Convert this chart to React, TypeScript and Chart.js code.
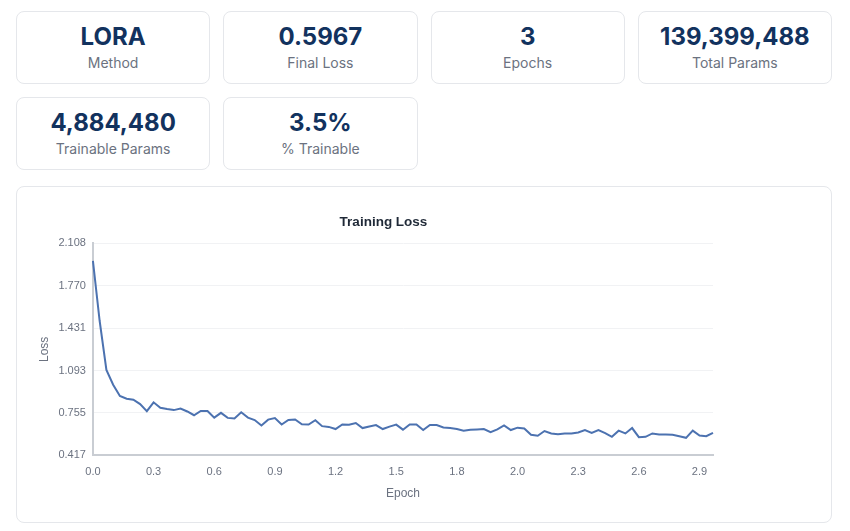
import React, { useEffect, useRef } from "react";
import { Chart, registerables } from "chart.js";

Chart.register(...registerables);

// ---- Data ----
const epochLabels: string[] = [
  "0.0", "0.0", "0.1", "0.1", "0.1", "0.2", "0.2", "0.2", "0.3", "0.3",
  "0.3", "0.4", "0.4", "0.4", "0.5", "0.5", "0.5", "0.6", "0.6", "0.6",
  "0.7", "0.7", "0.7", "0.7", "0.8", "0.8", "0.8", "0.9", "0.9", "0.9",
  "1.0", "1.0", "1.0", "1.1", "1.1", "1.1", "1.2", "1.2", "1.2", "1.3",
  "1.3", "1.3", "1.4", "1.4", "1.4", "1.5", "1.5", "1.5", "1.6", "1.6",
  "1.6", "1.7", "1.7", "1.7", "1.8", "1.8", "1.8", "1.9", "1.9", "1.9",
  "2.0", "2.0", "2.0", "2.0", "2.1", "2.1", "2.1", "2.2", "2.2", "2.2",
  "2.3", "2.3", "2.3", "2.4", "2.4", "2.4", "2.5", "2.5", "2.5", "2.6",
  "2.6", "2.6", "2.7", "2.7", "2.7", "2.8", "2.8", "2.8", "2.9", "2.9",
  "2.9", "3.0", "3.0",
];

const lossValues: number[] = [
  1.967, 1.488, 1.098, 0.98, 0.891, 0.869, 0.861, 0.826, 0.77, 0.84,
  0.797, 0.786, 0.778, 0.791, 0.767, 0.737, 0.771, 0.771, 0.718, 0.756,
  0.716, 0.711, 0.761, 0.718, 0.699, 0.655, 0.702, 0.714, 0.663, 0.699,
  0.703, 0.665, 0.663, 0.698, 0.65, 0.644, 0.627, 0.664, 0.662, 0.675,
  0.635, 0.648, 0.659, 0.627, 0.646, 0.662, 0.622, 0.664, 0.664, 0.619,
  0.659, 0.659, 0.64, 0.635, 0.628, 0.614, 0.622, 0.624, 0.627, 0.602,
  0.624, 0.656, 0.619, 0.638, 0.632, 0.581, 0.573, 0.611, 0.592, 0.586,
  0.592, 0.592, 0.6, 0.619, 0.596, 0.619, 0.595, 0.565, 0.614, 0.592,
  0.635, 0.562, 0.565, 0.592, 0.584, 0.584, 0.581, 0.57, 0.557, 0.614,
  0.576, 0.57, 0.5967,
];

const yTickValues: number[] = [0.417, 0.755, 1.093, 1.431, 1.77, 2.108];

const statValues: string[] = ["LORA", "0.5967", "3", "139,399,488", "4,884,480", "3.5%"];
const statLabels: string[] = ["Method", "Final Loss", "Epochs", "Total Params", "Trainable Params", "% Trainable"];

const CHART_FONT = "'Helvetica Neue', Helvetica, Arial, sans-serif";

function LossChart() {
  const canvasRef = useRef<HTMLCanvasElement | null>(null);

  useEffect(() => {
    if (!canvasRef.current) return;
    const chart = new Chart(canvasRef.current, {
      type: "line",
      data: {
        labels: epochLabels,
        datasets: [
          {
            label: "Loss",
            data: lossValues,
            borderColor: "#4c72b0",
            backgroundColor: "#4c72b0",
            borderWidth: 2,
            pointRadius: 0,
            tension: 0,
            fill: false,
          },
        ],
      },
      options: {
        animation: false,
        responsive: true,
        maintainAspectRatio: false,
        plugins: {
          legend: { display: false },
          tooltip: { enabled: false },
          title: {
            display: true,
            text: "Training Loss",
            color: "#1f2937",
            font: { family: CHART_FONT, size: 13.5, weight: "bold" },
            padding: { top: 11, bottom: 13 },
          },
        },
        scales: {
          x: {
            type: "category",
            grid: { display: false },
            border: { display: true, color: "#c9cdd3", width: 2 },
            afterFit: (scale: any) => {
              scale.paddingRight = Math.max(scale.paddingRight || 0, 21);
            },
            ticks: {
              autoSkip: true,
              maxTicksLimit: 11,
              maxRotation: 0,
              padding: 2,
              color: "#6b7280",
              font: { family: CHART_FONT, size: 11 },
            },
            title: {
              display: true,
              text: "Epoch",
              color: "#6b7280",
              font: { family: CHART_FONT, size: 12 },
              padding: { top: 6, bottom: 5 },
            },
          },
          y: {
            min: yTickValues[0],
            max: yTickValues[yTickValues.length - 1],
            afterBuildTicks: (scale: any) => {
              scale.ticks = yTickValues.map((v) => ({ value: v }));
            },
            grid: { color: "#f1f2f4", drawTicks: false },
            border: { display: true, color: "#c9cdd3", width: 2 },
            ticks: {
              padding: 7,
              color: "#6b7280",
              font: { family: CHART_FONT, size: 11 },
              callback: (v: any) => Number(v).toFixed(3),
            },
            title: {
              display: true,
              text: "Loss",
              color: "#6b7280",
              font: { family: CHART_FONT, size: 12 },
              padding: { top: 4, bottom: 0 },
            },
          },
        },
      },
    });
    return () => chart.destroy();
  }, []);

  return (
    <div style={{ position: "relative", width: 701, height: 303 }}>
      <canvas ref={canvasRef} />
    </div>
  );
}

function StatCard({ value, label }: { value: string; label: string }) {
  return (
    <div
      style={{
        background: "#fff",
        border: "1px solid #e5e7eb",
        borderRadius: 8,
        padding: "11px 16px 10px",
        textAlign: "center",
      }}
    >
      <div style={{ fontSize: 24, lineHeight: "28px", fontWeight: 700, color: "#12325e" }}>{value}</div>
      <div style={{ fontSize: 14, lineHeight: "20px", marginTop: 2, color: "#6b7280" }}>{label}</div>
    </div>
  );
}

export default function App() {
  return (
    <div style={{ padding: "3px 10px 8px 8px", fontFamily: "Inter, 'Noto Sans', sans-serif" }}>
      <div style={{ display: "grid", gridTemplateColumns: "repeat(4, 1fr)", gap: 13 }}>
        {statValues.map((v, i) => (
          <StatCard key={i} value={v} label={statLabels[i]} />
        ))}
      </div>
      <div
        style={{
          marginTop: 16,
          background: "#fff",
          border: "1px solid #e5e7eb",
          borderRadius: 8,
          padding: 16,
        }}
      >
        <LossChart />
      </div>
    </div>
  );
}
